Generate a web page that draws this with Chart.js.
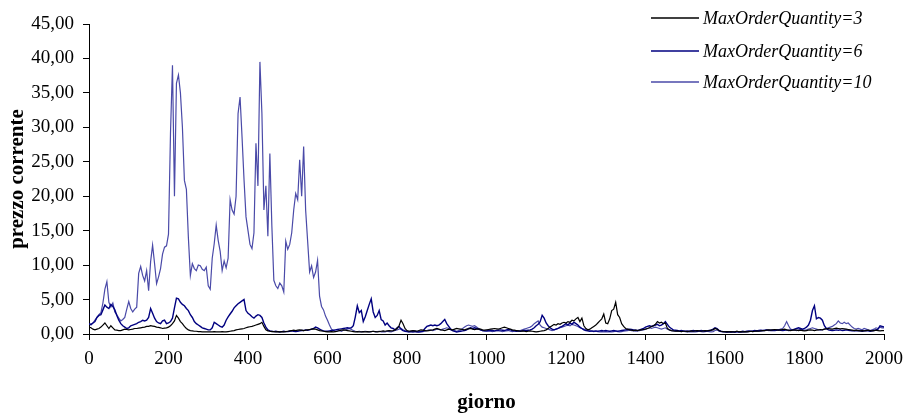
<!DOCTYPE html>
<html>
<head>
<meta charset="utf-8">
<script src="https://cdn.jsdelivr.net/npm/chart.js@4.4.1/dist/chart.umd.min.js"></script>
<style>
html,body{margin:0;padding:0;background:#fff;}
#wrap{width:907px;height:415px;position:relative;}
</style>
</head>
<body>
<div id="wrap"><canvas id="c" width="907" height="415"></canvas></div>
<script>
// sampling days (every 5 days from 0 to 2000)
const dayStep = 5;
const days = Array.from({length: 401}, (_, i) => i * dayStep);

const seriesLabels = ['MaxOrderQuantity=3', 'MaxOrderQuantity=6', 'MaxOrderQuantity=10'];
const yTickLabels = ['0,00','5,00','10,00','15,00','20,00','25,00','30,00','35,00','40,00','45,00'];
const xTickLabels = ['0','200','400','600','800','1000','1200','1400','1600','1800','2000'];

const q3 = [
1.0,0.9,0.7,0.6,0.7,0.8,1.0,1.3,1.6,1.2,0.8,1.2,0.9,0.6,0.55,0.5,0.5,0.6,0.7,0.65,
0.6,0.65,0.7,0.8,0.8,0.85,0.9,0.95,1.0,1.1,1.1,1.2,1.15,1.1,1.0,0.95,0.9,0.8,0.85,0.9,
1.0,1.2,1.5,1.9,2.7,2.3,1.8,1.5,1.1,0.8,0.6,0.5,0.45,0.4,0.4,0.35,0.35,0.3,0.3,0.3,
0.3,0.3,0.3,0.35,0.3,0.3,0.3,0.35,0.3,0.3,0.35,0.4,0.45,0.5,0.6,0.65,0.7,0.75,0.8,0.9,
1.0,1.05,1.1,1.2,1.3,1.4,1.5,1.7,1.1,0.6,0.45,0.4,0.35,0.35,0.3,0.35,0.3,0.35,0.3,0.35,
0.4,0.45,0.5,0.55,0.5,0.55,0.6,0.55,0.5,0.55,0.6,0.65,0.7,0.75,0.7,0.6,0.5,0.45,0.4,0.35,
0.3,0.3,0.35,0.3,0.35,0.4,0.5,0.55,0.6,0.55,0.5,0.45,0.4,0.35,0.3,0.35,0.3,0.3,0.35,0.3,
0.35,0.3,0.35,0.4,0.35,0.3,0.35,0.4,0.45,0.4,0.45,0.5,0.45,0.5,0.6,0.8,1.2,2.0,1.5,0.8,
0.5,0.4,0.45,0.5,0.45,0.4,0.5,0.6,0.55,0.5,0.45,0.5,0.55,0.6,0.7,0.8,0.7,0.6,0.55,0.5,
0.6,0.7,0.65,0.6,0.7,0.8,0.75,0.7,0.65,0.6,0.7,0.75,0.8,0.7,0.65,0.7,0.75,0.7,0.6,0.55,
0.6,0.65,0.7,0.75,0.8,0.75,0.7,0.8,0.9,1.0,0.9,0.8,0.7,0.6,0.55,0.5,0.45,0.4,0.45,0.4,
0.35,0.4,0.45,0.4,0.35,0.3,0.35,0.4,0.45,0.5,0.6,0.8,1.0,1.2,1.4,1.3,1.5,1.4,1.6,1.7,
1.6,1.8,1.7,2.0,1.9,2.2,2.4,1.8,2.3,1.2,0.8,0.6,0.7,0.9,1.1,1.3,1.6,1.9,2.2,2.9,
1.6,1.5,2.2,3.4,3.6,4.6,2.8,2.4,1.5,1.1,0.8,0.7,0.6,0.55,0.5,0.55,0.5,0.55,0.6,0.65,
0.7,0.8,0.9,1.1,1.2,1.4,1.8,1.6,1.7,1.5,1.6,0.8,0.6,0.5,0.45,0.4,0.45,0.4,0.35,0.4,
0.4,0.35,0.4,0.45,0.4,0.45,0.5,0.45,0.4,0.45,0.5,0.45,0.5,0.55,0.6,0.8,0.7,0.5,0.4,0.35,
0.3,0.35,0.3,0.35,0.3,0.3,0.4,0.3,0.35,0.3,0.35,0.3,0.35,0.4,0.35,0.4,0.45,0.4,0.45,0.5,
0.5,0.55,0.6,0.55,0.6,0.65,0.6,0.55,0.6,0.65,0.7,0.6,0.55,0.5,0.55,0.6,0.55,0.5,0.55,0.5,
0.45,0.5,0.55,0.6,0.55,0.5,0.55,0.6,0.65,0.6,0.7,0.75,0.8,0.75,0.7,0.8,0.85,0.8,0.75,0.8,
0.75,0.7,0.65,0.6,0.55,0.5,0.55,0.5,0.45,0.5,0.45,0.5,0.55,0.5,0.45,0.5,0.55,0.5,0.45,0.5,
0.5
];

const q6 = [
1.5,1.4,1.6,1.8,2.4,2.7,2.8,3.5,4.2,3.9,3.7,4.3,4.0,3.5,2.7,2.0,1.5,1.2,1.0,0.8,
0.9,1.2,1.3,1.4,1.5,1.7,1.8,2.0,1.9,2.0,2.4,3.7,3.0,2.3,1.8,1.6,1.5,1.9,2.0,1.5,
1.6,1.8,2.3,3.8,5.2,5.1,4.6,4.3,4.1,3.7,3.4,2.8,2.4,1.8,1.5,1.3,1.1,0.9,0.8,0.7,
0.6,0.6,0.9,1.7,1.5,1.3,1.1,1.0,1.3,2.0,2.5,2.9,3.3,3.8,4.1,4.4,4.6,4.8,5.0,3.4,
3.0,2.8,2.5,2.3,2.6,2.8,2.7,2.4,1.6,1.0,0.6,0.45,0.4,0.35,0.4,0.35,0.3,0.35,0.4,0.35,
0.35,0.4,0.45,0.4,0.35,0.4,0.45,0.5,0.5,0.6,0.55,0.6,0.7,0.8,1.0,0.9,0.7,0.55,0.45,0.4,
0.4,0.45,0.5,0.55,0.6,0.65,0.7,0.75,0.8,0.85,0.9,0.85,0.9,1.2,2.5,4.1,3.1,3.4,1.8,2.5,
3.4,4.3,5.1,3.2,2.4,2.7,3.4,2.1,1.9,1.3,1.6,1.2,0.9,0.8,0.6,0.9,1.1,0.7,0.5,0.4,
0.35,0.3,0.35,0.3,0.35,0.3,0.3,0.35,0.4,0.8,1.1,1.2,1.3,1.2,1.3,1.2,1.3,1.5,1.8,2.1,
1.5,1.1,0.7,0.5,0.4,0.3,0.35,0.4,0.45,0.5,0.6,0.8,0.9,0.8,0.9,0.8,0.7,0.6,0.5,0.45,
0.45,0.5,0.55,0.5,0.45,0.5,0.55,0.6,0.55,0.5,0.6,0.65,0.6,0.5,0.45,0.4,0.45,0.4,0.45,0.5,
0.5,0.55,0.6,0.7,0.9,1.2,1.4,1.8,2.7,2.3,1.6,1.2,0.9,0.7,0.6,0.7,0.8,1.0,1.1,1.3,
1.5,1.3,1.6,1.4,1.7,1.5,1.3,1.0,0.8,0.6,0.5,0.45,0.4,0.45,0.4,0.45,0.4,0.45,0.5,0.45,
0.5,0.45,0.4,0.45,0.5,0.45,0.4,0.45,0.5,0.55,0.6,0.65,0.7,0.65,0.6,0.55,0.5,0.6,0.7,0.8,
1.0,1.1,1.2,1.1,1.2,1.3,1.4,1.2,1.3,1.5,1.8,1.4,1.0,0.8,0.6,0.55,0.5,0.45,0.5,0.45,
0.4,0.45,0.4,0.45,0.5,0.45,0.4,0.45,0.5,0.45,0.4,0.45,0.5,0.55,0.7,0.9,0.8,0.5,0.4,0.35,
0.35,0.3,0.35,0.3,0.35,0.3,0.35,0.3,0.35,0.4,0.35,0.4,0.45,0.4,0.45,0.5,0.45,0.5,0.55,0.5,
0.55,0.6,0.55,0.5,0.55,0.5,0.55,0.6,0.55,0.5,0.55,0.6,0.5,0.55,0.6,0.7,0.8,0.9,0.8,0.7,
0.8,1.0,1.3,2.0,3.4,4.1,2.2,2.4,2.3,2.0,1.2,0.8,0.6,0.55,0.5,0.55,0.6,0.55,0.6,0.5,
0.55,0.6,0.55,0.5,0.45,0.5,0.45,0.5,0.45,0.4,0.45,0.5,0.45,0.4,0.45,0.5,0.6,0.7,1.2,1.1,
1.0
];

const q10 = [
1.5,1.3,1.6,2.0,2.4,2.8,3.1,4.5,6.5,7.6,4.6,3.9,4.5,3.2,2.8,2.3,1.9,2.1,2.4,3.6,
4.7,3.7,3.2,3.6,3.9,8.8,9.8,8.5,7.7,9.2,6.3,10.5,12.9,10.2,7.3,8.3,9.5,11.6,12.6,12.8,
14.5,29.1,39.0,20.0,36.4,37.6,35.0,30.0,22.3,21.0,14.0,8.5,10.2,9.5,9.2,10.0,9.9,9.4,9.2,9.7,
7.0,6.5,11.0,13.1,15.8,13.6,12.0,9.2,10.6,9.6,11.0,19.5,18.0,17.4,20.0,32.0,34.4,28.6,22.4,17.0,
15.0,13.0,12.4,14.7,27.7,21.5,39.5,32.0,18.0,21.5,14.2,26.2,15.7,7.8,7.0,6.6,7.4,7.0,6.1,13.5,
12.3,13.0,14.7,18.0,20.4,19.5,25.3,20.0,27.2,18.0,13.5,9.0,9.9,8.2,9.0,10.7,5.5,4.0,3.5,2.6,
2.0,1.3,0.7,0.5,0.4,0.45,0.5,0.4,0.55,0.6,0.7,0.8,0.65,0.5,0.4,0.35,0.4,0.3,0.35,0.4,
0.35,0.3,0.35,0.4,0.3,0.35,0.4,0.3,0.35,0.3,0.4,0.35,0.3,0.4,0.5,0.6,0.7,0.8,0.6,0.5,
0.45,0.4,0.35,0.4,0.45,0.4,0.35,0.3,0.35,0.4,0.5,0.6,0.55,0.5,0.6,0.7,0.65,0.6,0.7,0.8,
0.9,0.8,0.6,0.5,0.45,0.4,0.5,0.6,0.8,1.0,1.2,1.3,1.2,1.1,1.2,1.0,0.8,0.6,0.5,0.45,
0.4,0.45,0.4,0.35,0.4,0.5,0.45,0.4,0.35,0.4,0.45,0.5,0.4,0.35,0.4,0.45,0.4,0.5,0.6,0.7,
0.8,0.9,1.0,1.2,1.5,1.7,1.9,1.3,1.0,0.9,0.8,0.7,0.6,0.5,0.6,0.7,0.8,0.9,1.0,1.1,
1.2,1.3,1.2,1.4,1.3,1.2,1.1,0.9,0.8,0.7,0.6,0.5,0.45,0.4,0.35,0.4,0.35,0.3,0.35,0.3,
0.35,0.3,0.35,0.3,0.35,0.4,0.35,0.3,0.35,0.4,0.45,0.5,0.55,0.5,0.45,0.4,0.45,0.5,0.55,0.6,
0.7,0.8,0.9,0.8,0.9,1.0,0.9,0.8,0.7,0.8,0.9,0.7,0.6,0.5,0.45,0.4,0.45,0.4,0.35,0.4,
0.35,0.3,0.35,0.3,0.35,0.3,0.35,0.4,0.35,0.3,0.35,0.4,0.35,0.3,0.35,0.5,0.6,0.4,0.35,0.3,
0.3,0.25,0.3,0.25,0.3,0.25,0.3,0.3,0.25,0.3,0.35,0.3,0.35,0.4,0.35,0.4,0.45,0.4,0.45,0.5,
0.5,0.55,0.5,0.6,0.55,0.6,0.65,0.6,0.7,0.8,1.2,1.8,1.2,0.7,0.6,0.55,0.5,0.6,0.7,0.6,
0.55,0.6,0.7,0.8,0.9,0.8,0.7,0.6,0.55,0.6,0.7,0.8,0.9,1.0,1.1,1.3,1.5,1.9,1.6,1.5,
1.7,1.5,1.6,1.3,1.0,0.8,0.7,0.8,0.7,0.6,0.8,0.7,0.6,0.5,0.6,0.7,0.9,0.8,1.0,0.9,
0.9
];

const seriesColors = ['#000000', '#000080', '#4a4aa8'];
const seriesWidths = [1.2, 1.4, 1.2];
const allSeries = [q3, q6, q10];

const FONT = "'Liberation Serif', 'DejaVu Serif', serif";

const legendPlugin = {
  id: 'sideLegend',
  afterDraw(chart) {
    const ctx = chart.ctx;
    ctx.save();
    const rows = [18, 51, 82];
    chart.data.datasets.forEach((ds, i) => {
      const y = rows[i];
      ctx.strokeStyle = ds.borderColor;
      ctx.lineWidth = 1.5;
      ctx.beginPath();
      ctx.moveTo(651, y);
      ctx.lineTo(699, y);
      ctx.stroke();
      ctx.fillStyle = '#000';
      ctx.font = "italic 18px " + FONT;
      ctx.textBaseline = 'middle';
      ctx.textAlign = 'left';
      ctx.fillText(ds.label, 703, y + 1);
    });
    ctx.restore();
  }
};

new Chart(document.getElementById('c'), {
  type: 'line',
  data: {
    datasets: allSeries.map((s, i) => ({
      label: seriesLabels[i],
      data: s.map((v, j) => ({x: days[j], y: v})),
      borderColor: seriesColors[i],
      borderWidth: seriesWidths[i],
      pointRadius: 0,
      tension: 0,
      fill: false,
      order: i
    }))
  },
  options: {
    responsive: false,
    animation: false,
    layout: { padding: { top: 24, right: 23, left: 0, bottom: 0 } },
    plugins: { legend: { display: false }, tooltip: { enabled: false } },
    scales: {
      x: {
        type: 'linear',
        min: 0, max: 2000,
        afterFit(s) { s.height = 81; s.paddingLeft = 0; s.paddingRight = 0; },
        afterBuildTicks(s) { s.ticks = xTickLabels.map(t => ({value: Number(t)})); },
        ticks: {
          color: '#000',
          font: { family: FONT, size: 19 },
          padding: 8,
          maxRotation: 0,
          callback: (v, i) => xTickLabels[i]
        },
        grid: { display: true, drawOnChartArea: false, drawTicks: true, tickLength: 6, color: '#000' },
        border: { display: true, color: '#000', width: 1 },
        title: {
          display: true, text: 'giorno', color: '#000',
          font: { family: FONT, size: 21, weight: 'bold' },
          padding: { top: 12, bottom: 0 }
        }
      },
      y: {
        type: 'linear',
        min: 0, max: 45,
        afterFit(s) { s.width = 89; s.paddingTop = 0; s.paddingBottom = 0; },
        afterBuildTicks(s) { s.ticks = yTickLabels.map((t, i) => ({value: i * 5})); },
        ticks: {
          color: '#000',
          font: { family: FONT, size: 19 },
          padding: 9,
          callback: (v, i) => yTickLabels[i]
        },
        grid: { display: true, drawOnChartArea: false, drawTicks: true, tickLength: 6, color: '#000' },
        border: { display: true, color: '#000', width: 1 },
        title: {
          display: true, text: 'prezzo corrente', color: '#000',
          font: { family: FONT, size: 21, weight: 'bold' },
          padding: { top: 5, bottom: 0 }
        }
      }
    }
  },
  plugins: [legendPlugin]
});
</script>
</body>
</html>
